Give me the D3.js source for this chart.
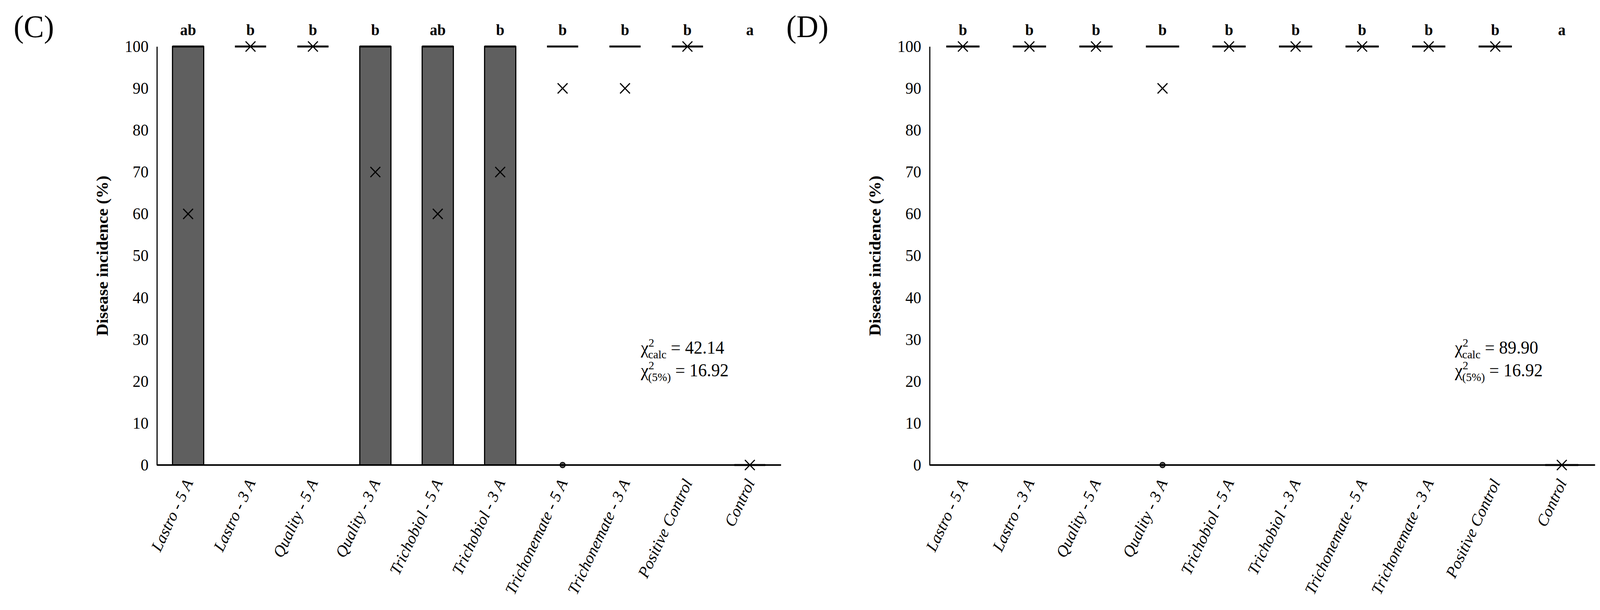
<!DOCTYPE html>
<html><head><meta charset="utf-8">
<script src="https://cdn.jsdelivr.net/npm/d3@7"></script>
<style>html,body{margin:0;background:#fff;overflow:hidden}svg{display:block;width:100vw;height:100vh}text{font-family:"Liberation Serif","Times New Roman",serif}</style>
</head><body>
<svg id="chart" viewBox="0 0 4222 1561" preserveAspectRatio="none"></svg>
<script>
const categories = ['Lastro - 5 A', 'Lastro - 3 A', 'Quality - 5 A', 'Quality - 3 A', 'Trichobiol - 5 A',
    'Trichobiol - 3 A', 'Trichonemate - 5 A', 'Trichonemate - 3 A', 'Positive Control', 'Control'];
const yTicks = [0, 10, 20, 30, 40, 50, 60, 70, 80, 90, 100];

// box: [q1, q3], median line at q3, mean (x marker), outliers
const boxC = [[0, 100], [100, 100], [100, 100], [0, 100], [0, 100], [0, 100], [100, 100], [100, 100], [100, 100], [0, 0]];
const meanC = [60, 100, 100, 70, 60, 70, 90, 90, 100, 0];
const outC = [[], [], [], [], [], [], [0], [], [], []];
const lettersC = ['ab', 'b', 'b', 'b', 'ab', 'b', 'b', 'b', 'b', 'a'];

const boxD = [[100, 100], [100, 100], [100, 100], [100, 100], [100, 100], [100, 100], [100, 100], [100, 100], [100, 100], [0, 0]];
const meanD = [100, 100, 100, 90, 100, 100, 100, 100, 100, 0];
const outD = [[], [], [], [0], [], [], [], [], [], []];
const lettersD = ['b', 'b', 'b', 'b', 'b', 'b', 'b', 'b', 'b', 'a'];

const svg = d3.select('#chart');

function panel(tag, x0, x1, box, mean, out, letters, chiCalc) {
    const top = 119, bottom = 1190;
    const x = d3.scaleBand().domain(categories).range([x0, x1]).paddingInner(0.5).paddingOuter(0.25);
    const y = d3.scaleLinear().domain([0, 100]).range([bottom, top]);
    const g = svg.append('g');

    g.append('text').attr('x', x0 - 378).attr('y', 95).attr('font-size', 80).text(tag);

    // y axis
    const ya = g.append('g').attr('transform', `translate(${x0},0)`)
        .call(d3.axisLeft(y).tickValues(yTicks).tickSize(0).tickPadding(22));
    ya.select('.domain').attr('stroke', '#000').attr('stroke-width', 3);
    ya.selectAll('text').attr('font-size', 42).attr('font-family', 'Liberation Serif').attr('fill', '#000');

    g.append('text').attr('transform', `translate(${x0 - 130},${(top + bottom) / 2}) rotate(-90)`)
        .attr('text-anchor', 'middle').attr('font-size', 44).attr('font-weight', 'bold').text('Disease incidence (%)');

    const bw = x.bandwidth();
    categories.forEach((c, i) => {
        const cx = x(c) + bw / 2;
        const [lo, hi] = box[i];
        if (hi > lo) {
            g.append('rect').attr('x', x(c)).attr('y', y(hi)).attr('width', bw).attr('height', y(lo) - y(hi))
                .attr('fill', '#5f5f5f').attr('stroke', '#000').attr('stroke-width', 3);
        }
        g.append('line').attr('x1', x(c)).attr('x2', x(c) + bw).attr('y1', y(hi)).attr('y2', y(hi))
            .attr('stroke', '#000').attr('stroke-width', 5);
        const m = y(mean[i]), s = 13;
        g.append('path').attr('d', `M${cx - s},${m - s}L${cx + s},${m + s}M${cx - s},${m + s}L${cx + s},${m - s}`)
            .attr('stroke', '#000').attr('stroke-width', 3);
        out[i].forEach(v => g.append('circle').attr('cx', cx).attr('cy', y(v)).attr('r', 7)
            .attr('fill', '#555').attr('stroke', '#000').attr('stroke-width', 2));
        g.append('text').attr('x', cx).attr('y', 90).attr('text-anchor', 'middle')
            .attr('font-size', 40).attr('font-weight', 'bold').text(letters[i]);
        g.append('text').attr('transform', `translate(${cx + 14},${bottom + 45}) rotate(-64)`)
            .attr('text-anchor', 'end').attr('font-size', 42).attr('font-style', 'italic').text(c);
    });

    // x axis line
    g.append('line').attr('x1', x0).attr('x2', x1).attr('y1', bottom).attr('y2', bottom)
        .attr('stroke', '#000').attr('stroke-width', 4);

    const tx = x1 - 370;
    const t1 = g.append('text').attr('x', tx).attr('y', 905).attr('font-size', 46);
    t1.append('tspan').text('χ');
    t1.append('tspan').attr('dy', -18).attr('font-size', 30).text('2');
    t1.append('tspan').attr('dy', 30).attr('dx', -16).attr('font-size', 30).text('calc');
    t1.append('tspan').attr('dy', -12).text(' = ' + chiCalc);
    const t2 = g.append('text').attr('x', tx).attr('y', 963).attr('font-size', 46);
    t2.append('tspan').text('χ');
    t2.append('tspan').attr('dy', -18).attr('font-size', 30).text('2');
    t2.append('tspan').attr('dy', 30).attr('dx', -16).attr('font-size', 30).text('(5%)');
    t2.append('tspan').attr('dy', -12).text(' = 16.92');
}

panel('(C)', 414, 2061, boxC, meanC, outC, lettersC, '42.14');
panel('(D)', 2453, 4209, boxD, meanD, outD, lettersD, '89.90');
</script>
</body></html>
